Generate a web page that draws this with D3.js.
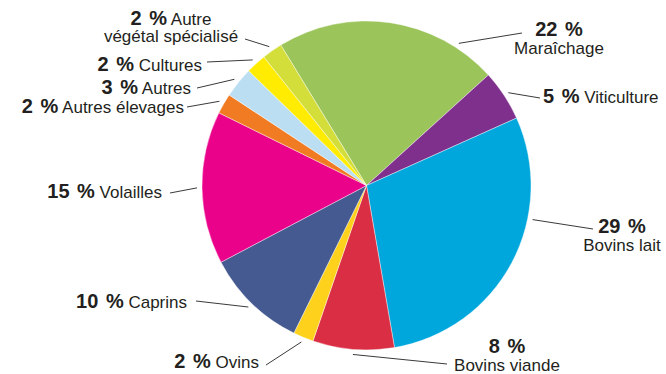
<!DOCTYPE html>
<html>
<head>
<meta charset="utf-8">
<script src="https://cdn.jsdelivr.net/npm/d3@7"></script>
<style>
  html, body { margin: 0; padding: 0; background: #fff; }
  svg { display: block; font-family: "Liberation Sans", Arial, sans-serif; }
</style>
</head>
<body>
<svg id="chart" width="666" height="374"></svg>
<script>
// Share of farms by production type (%), listed clockwise from Maraîchage
const categories = [
  "Maraîchage", "Viticulture", "Bovins lait", "Bovins viande", "Ovins",
  "Caprins", "Volailles", "Autres élevages", "Autres", "Cultures",
  "Autre végétal spécialisé"
];
const shares = [22, 5, 29, 8, 2, 10, 15, 2, 3, 2, 2];
const colors = [
  "#9bc45a", "#7f2f8c", "#00a7dc", "#d92e44", "#fed21c",
  "#455a90", "#eb028b", "#f17b22", "#bbdef2", "#ffec00",
  "#d3de3b"
];

// Label placement: text anchor point, leader outer end, optional leader angle (deg)
const labelLayout = {
  "Maraîchage":               { mode: "stack",  x: 559, y: 36,  out: [522, 33], angle: 33 },
  "Viticulture":              { mode: "inline", x: 543, y: 103, out: [540, 98], anchor: "start" },
  "Bovins lait":              { mode: "stack",  x: 622, y: 233, out: [593, 229], angle: 101.6 },
  "Bovins viande":            { mode: "stack",  x: 507, y: 353, out: [447, 364] },
  "Ovins":                    { mode: "inline", x: 259, y: 368, out: [266, 365] },
  "Caprins":                  { mode: "inline", x: 187, y: 308, out: [196, 301] },
  "Volailles":                { mode: "inline", x: 162, y: 198, out: [170, 193] },
  "Autres élevages":          { mode: "inline", x: 184, y: 113, out: [187, 107] },
  "Autres":                   { mode: "inline", x: 191, y: 94,  out: [197, 88] },
  "Cultures":                 { mode: "inline", x: 202, y: 71,  out: [207, 62] },
  "Autre végétal spécialisé": { mode: "wrap",   x: 171, y: 25,  out: [245, 39] }
};

const cx = 366.5, cy = 185.5, radius = 164.5;
const startDeg = -31.4;
const toRad = d => d * Math.PI / 180;

const svg = d3.select("#chart");
const g = svg.append("g").attr("transform", `translate(${cx},${cy})`);

const data = categories.map((c, i) => ({ name: c, value: shares[i], color: colors[i] }));

const pie = d3.pie()
  .sort(null)
  .value(d => d.value)
  .startAngle(toRad(startDeg))
  .endAngle(toRad(startDeg) + 2 * Math.PI);

const arc = d3.arc().innerRadius(0).outerRadius(radius);
const arcs = pie(data);

g.selectAll("path.slice")
  .data(arcs)
  .join("path")
  .attr("class", "slice")
  .attr("d", arc)
  .attr("fill", d => d.data.color)
  .attr("stroke", "#ffffff")
  .attr("stroke-width", 0.4);

// Leader lines
const textColor = "#231f20";
const leaderR = radius + 5;
arcs.forEach(a => {
  const L = labelLayout[a.data.name];
  const ang = L.angle !== undefined ? toRad(L.angle) : (a.startAngle + a.endAngle) / 2;
  const x1 = cx + leaderR * Math.sin(ang);
  const y1 = cy - leaderR * Math.cos(ang);
  svg.append("line")
    .attr("x1", x1).attr("y1", y1)
    .attr("x2", L.out[0]).attr("y2", L.out[1])
    .attr("stroke", "#3a3a3a")
    .attr("stroke-width", 1);
});

// Labels: bold percentage followed by the category name
const pctSize = 20, nameSize = 17, lineGap = 18;
const pctSpan = (sel, pct) => sel.append("tspan")
  .attr("font-weight", "bold").attr("font-size", pctSize)
  .attr("word-spacing", 2).text(pct);

arcs.forEach(a => {
  const L = labelLayout[a.data.name];
  const pct = `${a.data.value} %`;
  const t = svg.append("text").attr("fill", textColor);
  if (L.mode === "inline") {
    t.attr("x", L.x).attr("y", L.y).attr("text-anchor", L.anchor || "end");
    pctSpan(t, pct);
    t.append("tspan").attr("font-size", nameSize).text(" " + a.data.name);
  } else if (L.mode === "stack") {
    t.attr("x", L.x).attr("y", L.y).attr("text-anchor", "middle");
    pctSpan(t, pct);
    svg.append("text").attr("fill", textColor)
      .attr("x", L.x).attr("y", L.y + lineGap).attr("text-anchor", "middle")
      .attr("font-size", nameSize).text(a.data.name);
  } else {
    const words = a.data.name.split(" ");
    t.attr("x", L.x).attr("y", L.y).attr("text-anchor", "middle");
    pctSpan(t, pct);
    t.append("tspan").attr("font-size", nameSize).text(" " + words[0]);
    svg.append("text").attr("fill", textColor)
      .attr("x", L.x).attr("y", L.y + 17).attr("text-anchor", "middle")
      .attr("font-size", nameSize).text(words.slice(1).join(" "));
  }
});
</script>
</body>
</html>
